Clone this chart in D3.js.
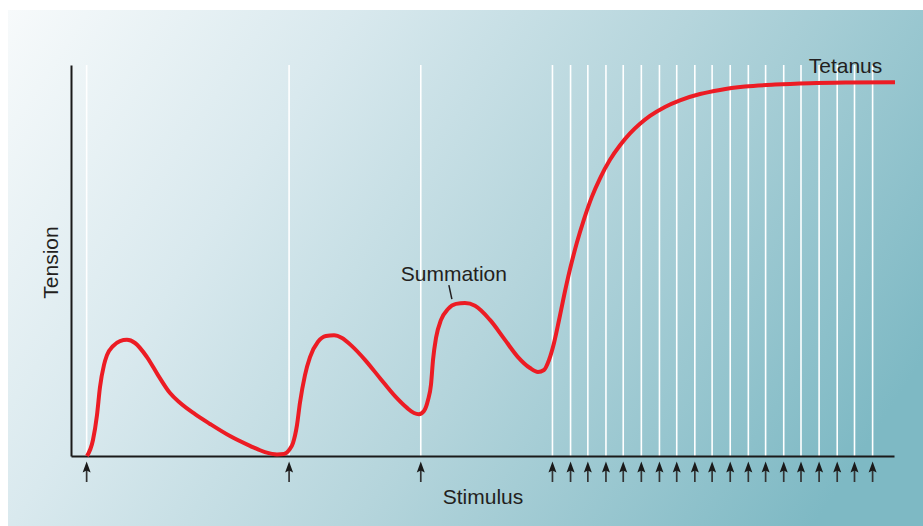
<!DOCTYPE html>
<html>
<head>
<meta charset="utf-8">
<script src="https://cdn.jsdelivr.net/npm/d3@7"></script>
<style>
  html, body { margin: 0; padding: 0; background: #ffffff; }
  svg { display: block; }
  text { font-family: "Liberation Sans", Arial, Helvetica, sans-serif; fill: #231f20; }
</style>
</head>
<body>
<svg id="chart" width="923" height="526"></svg>
<script>
// ---- data ----
const stimulusTimes = [1.9, 26.5, 42.5, 58.5, 60.7, 62.8, 65.0, 67.1, 69.3, 71.5, 73.6, 75.8, 77.9, 80.1, 82.3, 84.4, 86.6, 88.7, 90.9, 93.1, 95.2, 97.4];

const curveTime = [1.94, 2.67, 3.16, 3.52, 4.01, 4.37, 5.10, 5.95, 6.80, 7.78, 9.23, 10.57, 12.03, 13.24, 15.07, 16.89, 19.32, 21.75, 23.57, 25.03, 25.88, 26.49, 26.97, 27.46, 27.82, 28.43, 29.04, 30.01, 30.98, 31.96, 32.93, 34.14, 35.72, 37.55, 39.37, 40.83, 41.68, 42.28, 42.89, 43.38, 43.74, 43.99, 44.35, 44.96, 45.81, 46.79, 47.87, 49.09, 50.91, 52.73, 54.31, 55.77, 56.74, 57.47, 58.08, 58.69, 59.30, 59.90, 60.63, 61.48, 62.33, 63.30, 64.28, 65.49, 66.71, 67.92, 69.14, 70.35, 72.17, 73.99, 76.43, 78.86, 81.89, 85.54, 89.79, 94.65, 100.12];
const curveTension = [0, 4.1, 10.5, 17.6, 23.3, 25.8, 28.1, 29.4, 29.7, 28.9, 25.3, 20.7, 16.1, 13.6, 10.7, 8.2, 5.1, 2.6, 1.0, 0.4, 0.5, 1.5, 3.3, 7.9, 13.6, 20.7, 25.3, 29.2, 30.7, 30.9, 30.2, 28.1, 24.6, 19.9, 15.3, 12.3, 11.0, 10.7, 11.5, 14.3, 18.2, 24.6, 30.2, 34.8, 37.6, 38.9, 39.1, 38.4, 34.8, 29.7, 25.3, 22.5, 21.5, 22.0, 24.55, 28.90, 34.78, 40.92, 47.75, 54.65, 60.54, 66.34, 71.02, 75.75, 79.46, 82.51, 84.96, 86.98, 89.28, 90.97, 92.58, 93.63, 94.48, 95.01, 95.35, 95.52, 95.60];

const xLabel = "Stimulus";
const yLabel = "Tension";
const annotations = [
  { text: "Summation", t: 46.4, v: 39.1 },
  { text: "Tetanus", t: 97.0, v: 95.7 }
];

// ---- layout ----
const svg = d3.select("#chart");
const W = 923, H = 526;
const plot = { left: 71, right: 894, top: 65, bottom: 456 };

const x = d3.scaleLinear().domain([0, 100]).range([plot.left, plot.right]);
const y = d3.scaleLinear().domain([0, 100]).range([plot.bottom, plot.top]);

// background gradient
const defs = svg.append("defs");
const grad = defs.append("linearGradient")
  .attr("id", "bg")
  .attr("x1", 0).attr("y1", 0).attr("x2", 1.1).attr("y2", 0.41);
grad.append("stop").attr("offset", 0).attr("stop-color", "#f7fafb");
grad.append("stop").attr("offset", 0.3).attr("stop-color", "#d9e9ee");
grad.append("stop").attr("offset", 0.6).attr("stop-color", "#b5d5dc");
grad.append("stop").attr("offset", 1).attr("stop-color", "#7eb9c4");

svg.append("rect")
  .attr("x", 8).attr("y", 10).attr("width", W - 8).attr("height", H - 10)
  .attr("fill", "url(#bg)");

// stimulus vertical lines
svg.append("g").selectAll("line").data(stimulusTimes).join("line")
  .attr("x1", d => x(d)).attr("x2", d => x(d))
  .attr("y1", plot.top).attr("y2", plot.bottom)
  .attr("stroke", "#ffffff").attr("stroke-width", 1.6);

// axes
const xAxis = d3.axisBottom(x).tickValues([]).tickSizeOuter(0);
const yAxis = d3.axisLeft(y).tickValues([]).tickSizeOuter(0);
const gx = svg.append("g").attr("transform", `translate(0,${plot.bottom})`).call(xAxis);
const gy = svg.append("g").attr("transform", `translate(${plot.left},0)`).call(yAxis);
[gx, gy].forEach(g => g.select(".domain").attr("stroke", "#1a1a1a").attr("stroke-width", 2));

// tension curve
const pts = curveTime.map((t, i) => [t, curveTension[i]]);
const line = d3.line().x(d => x(d[0])).y(d => y(d[1])).curve(d3.curveMonotoneX);
svg.append("path").datum(pts)
  .attr("d", line)
  .attr("fill", "none")
  .attr("stroke", "#ec1c24")
  .attr("stroke-width", 4)
  .attr("stroke-linecap", "butt")
  .attr("stroke-linejoin", "round");

// stimulus arrows
const arrows = svg.append("g").selectAll("g").data(stimulusTimes).join("g")
  .attr("transform", d => `translate(${x(d)},${plot.bottom})`);
arrows.append("line")
  .attr("x1", 0).attr("x2", 0).attr("y1", 14).attr("y2", 26)
  .attr("stroke", "#333333").attr("stroke-width", 1.7);
arrows.append("path")
  .attr("d", "M0,5.5 L4,16.5 L0,14.5 L-4,16.5 Z")
  .attr("fill", "#1a1a1a");

// axis labels
svg.append("text")
  .attr("x", (plot.left + plot.right) / 2 + 0.5).attr("y", 504)
  .attr("text-anchor", "middle").attr("font-size", 21)
  .text(xLabel);
svg.append("text")
  .attr("transform", `translate(58,${(plot.top + plot.bottom) / 2 + 2}) rotate(-90)`)
  .attr("text-anchor", "middle").attr("font-size", 21)
  .text(yLabel);

// annotations
const sum = annotations[0];
svg.append("text")
  .attr("x", x(sum.t) + 1).attr("y", y(sum.v) - 22)
  .attr("text-anchor", "middle").attr("font-size", 21)
  .text(sum.text);
svg.append("line")
  .attr("x1", x(sum.t) - 4).attr("y1", y(sum.v) - 18)
  .attr("x2", x(sum.t) - 1).attr("y2", y(sum.v) - 4)
  .attr("stroke", "#231f20").attr("stroke-width", 1.5);

const tet = annotations[1];
svg.append("text")
  .attr("x", x(tet.t) + 13).attr("y", y(tet.v) - 9)
  .attr("text-anchor", "end").attr("font-size", 21)
  .text(tet.text);
</script>
</body>
</html>
